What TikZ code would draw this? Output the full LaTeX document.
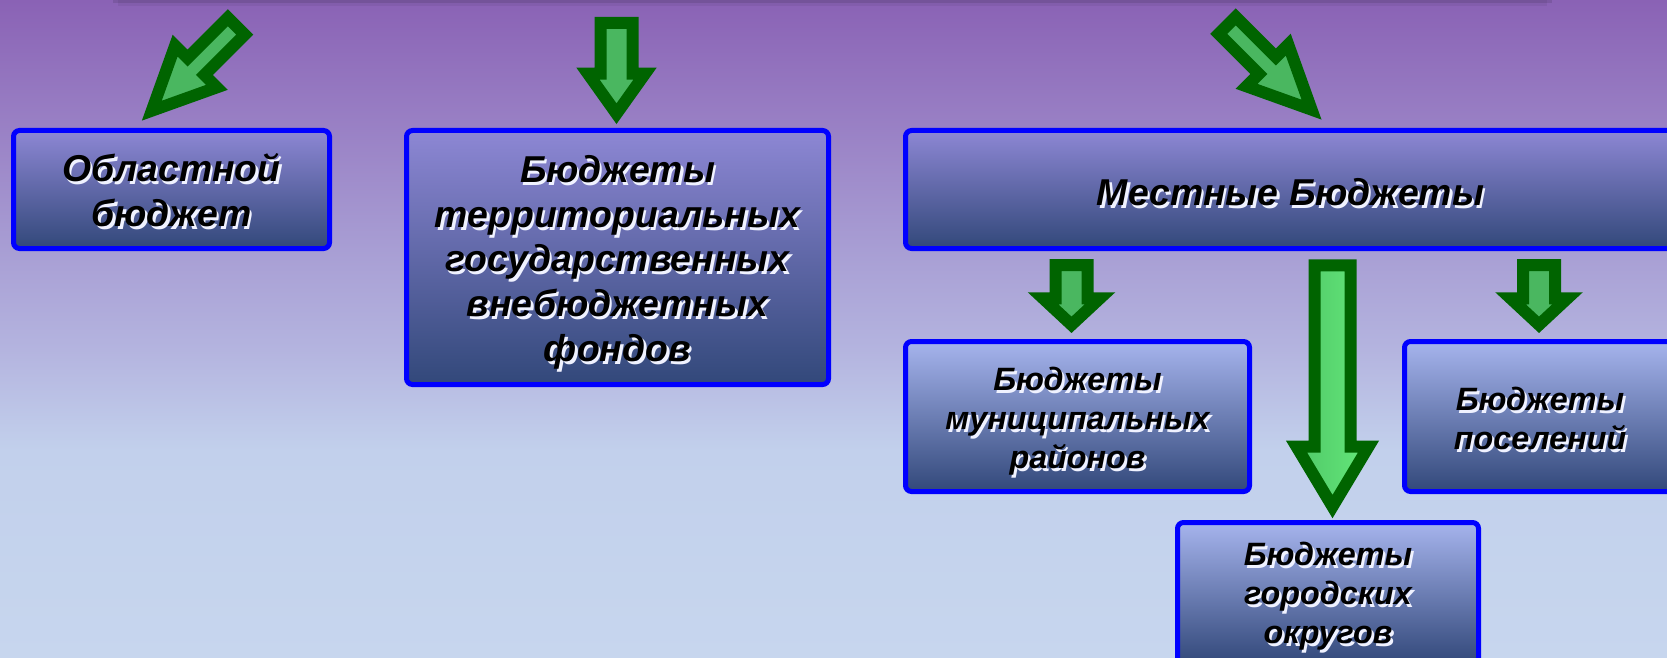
\documentclass[tikz,border=0pt]{standalone}
\usepackage{fontspec}
\setmainfont{Liberation Sans}

\definecolor{boxline}{RGB}{0,0,255}
\definecolor{arrowline}{RGB}{0,100,0}
\definecolor{arrowfill}{RGB}{74,183,96}
\definecolor{arrowlight}{RGB}{92,212,112}
\definecolor{longtop}{RGB}{80,200,104}
\definecolor{longbot}{RGB}{100,232,122}
\definecolor{boxtop}{RGB}{141,135,212}
\definecolor{boxmid}{RGB}{118,132,214}
\definecolor{boxbot}{RGB}{50,72,122}
\definecolor{lowtop}{RGB}{166,180,237}
\definecolor{lowmid}{RGB}{132,152,222}
\definecolor{glowcol}{RGB}{240,242,255}

\pgfdeclareverticalshading{bgshade}{100bp}{rgb(0bp)=(0.780,0.839,0.933); rgb(25bp)=(0.780,0.839,0.933);
  rgb(40.8bp)=(0.761,0.816,0.925); rgb(48.4bp)=(0.706,0.706,0.875);
  rgb(56bp)=(0.659,0.620,0.831); rgb(75bp)=(0.541,0.384,0.710); rgb(100bp)=(0.541,0.384,0.710)}

% text with a light shadow, lowered a little
\newcommand{\glow}[2][5.5pt]{\raisebox{-#1}[\height][\depth]{\makebox[0pt][l]{\hspace*{2.5pt}\raisebox{-3pt}[0pt][0pt]{\color{glowcol}\begin{tabular}{@{}c@{}}#2\end{tabular}}}\begin{tabular}{@{}c@{}}#2\end{tabular}}}

\tikzset{
  box/.style={draw=boxline, line width=5, rounded corners=6, inner sep=0,
    top color=boxtop, middle color=boxmid, bottom color=boxbot,
    font=\fontsize{37.4}{44.6}\selectfont\bfseries\itshape},
  lowbox/.style={box, top color=lowtop, middle color=lowmid, bottom color=boxbot,
    font=\fontsize{32.3}{38.8}\selectfont\bfseries\itshape},
  arrowpath/.style={draw=arrowline, fill=arrowfill, line width=12, line join=miter},
  % length / shaft half width / head half width / head length
  pics/blockarrow/.style args={#1/#2/#3/#4}{code={
    \path[arrowpath, pic actions] (0,-#2) -- ({#1-#4},-#2) -- ({#1-#4},-#3) -- (#1,0)
      -- ({#1-#4},#3) -- ({#1-#4},#2) -- (0,#2) -- cycle;
  }}
}

\begin{document}
\begin{tikzpicture}[x=1pt,y=-1pt]
  \useasboundingbox (0,0) rectangle (1667,658);
  \clip (0,0) rectangle (1667,658);
  \shade[shading=bgshade] (0,0) rectangle (1667,658);
  % shadow of the title box above
  \fill[black, opacity=.10] (113,-10) rectangle (1552,3);
  \fill[black, opacity=.05] (118,-10) rectangle (1547,6);

  % upper row
  \node[box, minimum width=316, minimum height=118] (obl) at (171.5,189.5) {\glow{Областной\\бюджет}};
  \node[box, minimum width=422, minimum height=254] (fond) at (617.5,257.5)
    {\glow{Бюджеты\\территориальных\\государственных\\внебюджетных\\фондов}};
  \node[box, minimum width=770, minimum height=118] (mest) at (1290.5,189.5) {\glow[7.5pt]{Местные Бюджеты}};

  % lower row
  \node[lowbox, minimum width=344, minimum height=150] (mun) at (1077.5,416.5) {\glow{Бюджеты\\муниципальных\\районов}};
  \node[lowbox, minimum width=271, minimum height=150] (pos) at (1540,416.5) {\glow{Бюджеты\\поселений}};
  \node[lowbox, minimum width=301, minimum height=141] (gor) at (1328,593) {\glow[4pt]{Бюджеты\\городских\\округов}};

  % arrows
  \pic[rotate=-135] (a1) at (236.3,26.2) {blockarrow={119.5/12/29.5/62.5}};
  \pic[rotate=-90] (a2) at (616.5,23) {blockarrow={90.7/16/28.5/40}};
  \pic[rotate=-45] (a3) at (1227.2,25.3) {blockarrow={119.3/12/29.5/62.5}};
  \pic[rotate=-90, fill=arrowlight] (a4) at (1071.5,265) {blockarrow={59.8/16/28.5/26.5}};
  \pic[rotate=-90, left color=longtop, right color=longbot] (a5)
    at (1332.5,265.3) {blockarrow={241.3/18/36/60}};
  \pic[rotate=-90, fill=arrowlight] (a6) at (1539,265) {blockarrow={59.8/16/28.5/26.5}};
\end{tikzpicture}
\end{document}
